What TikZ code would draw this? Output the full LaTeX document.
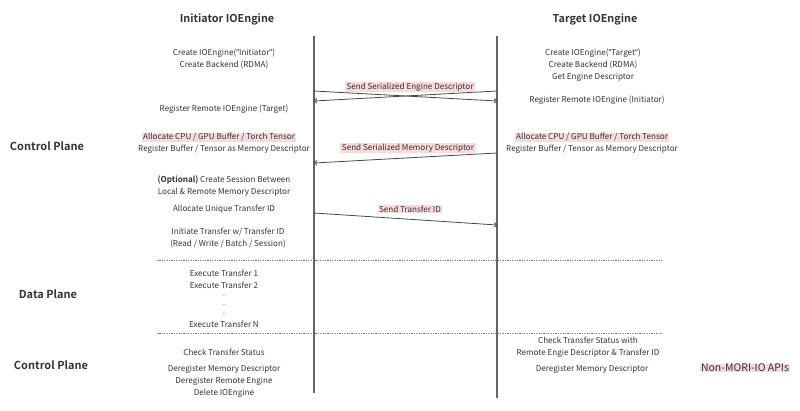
\documentclass[tikz,border=0pt]{standalone}
\usepackage{fontspec}
\setmainfont{Noto Sans CJK SC}[BoldFont={Noto Sans CJK SC Bold}]
\newfontfamily\qfont{Noto Sans}
\newcommand{\myrquote}{{\qfont\char"201D}}
\usetikzlibrary{arrows.meta}
\definecolor{txt}{RGB}{51,51,51}
\definecolor{hl}{RGB}{248,218,220}
\definecolor{life}{RGB}{100,100,100}
\tikzset{
  lbl/.style={text=txt, font=\fontsize{8.1}{12}\selectfont, inner sep=0.5pt, align=center, yshift=-1pt},
  hlbl/.style={lbl, fill=hl, inner xsep=1.5pt, inner ysep=0.5pt},
  title/.style={text=txt, font=\fontsize{10.8}{13}\selectfont\bfseries, inner sep=0pt},
  plane/.style={text=txt, font=\fontsize{11}{12}\selectfont\bfseries, inner sep=0pt},
  dotlbl/.style={text=txt!60, font=\qfont\fontsize{9}{9}\selectfont, inner sep=0pt, anchor=base},
  lifeline/.style={draw=life, line width=1.4pt},
  msg/.style={draw=txt!90, line width=0.8pt, -{To[length=3pt,width=5pt]}},
  sep/.style={draw=txt!70, line width=0.6pt, dash pattern=on 1.2pt off 1.2pt},
}
\begin{document}
\begin{tikzpicture}[x=1pt,y=-1pt]
\useasboundingbox (0,0) rectangle (800,410);
% titles
\node[title] (tI) at (227,19) {Initiator IOEngine};
\node[title] (tT) at (595,19) {Target IOEngine};
% lifelines
\coordinate (iTop) at (314,36); \coordinate (iBot) at (314,393);
\coordinate (tTop) at (497,36); \coordinate (tBot) at (497,398);
\draw[lifeline] (iTop) -- (iBot);
\draw[lifeline] (tTop) -- (tBot);
% separators
\coordinate (s1a) at (157,260); \coordinate (s1b) at (663,260);
\coordinate (s2a) at (157,333); \coordinate (s2b) at (663,333);
\draw[sep] (s1a) -- (s1b);
\draw[sep] (s2a) -- (s2b);
% plane labels
\node[plane] (cp1) at (47,146) {Control Plane};
\node[plane] (dp) at (48,294) {Data Plane};
\node[plane] (cp2) at (51,365) {Control Plane};
% initiator column
\node[lbl] (i1) at (224,58) {Create IOEngine(\myrquote Initiator\myrquote)\\Create Backend (RDMA)};
\node[lbl] (i2) at (224,108) {Register Remote IOEngine (Target)};
\node[hlbl] (i3) at (219,136) {Allocate CPU / GPU Buffer / Torch Tensor};
\node[lbl] (i4) at (224,148) {Register Buffer / Tensor as Memory Descriptor};
\node[lbl] (i5) at (224,185) {\textbf{(Optional)} Create Session Between\\Local \& Remote Memory Descriptor};
\node[lbl] (i6) at (224,208) {Allocate Unique Transfer ID};
\node[lbl] (i7) at (228,237) {Initiate Transfer w/ Transfer ID\\(Read / Write / Batch / Session)};
\node[lbl] (i8) at (224,278) {Execute Transfer 1\\Execute Transfer 2};
\node[dotlbl] (d1) at (224,296) {.};
\node[dotlbl] (d2) at (224,305) {.};
\node[dotlbl] (d3) at (224,314) {.};
\node[lbl] (i9) at (224,323) {Execute Transfer N};
\node[lbl] (i10) at (224,351) {Check Transfer Status};
\node[lbl] (i11) at (224,380) {Deregister Memory Descriptor\\Deregister Remote Engine\\Delete IOEngine};
% target column
\node[lbl] (t1) at (593,64) {Create IOEngine(\myrquote Target\myrquote)\\Create Backend (RDMA)\\Get Engine Descriptor};
\node[lbl] (t2) at (597,99) {Register Remote IOEngine (Initiator)};
\node[hlbl] (t3) at (592,136) {Allocate CPU / GPU Buffer / Torch Tensor};
\node[lbl] (t4) at (592,148) {Register Buffer / Tensor as Memory Descriptor};
\node[lbl] (t5) at (588,346) {Check Transfer Status with\\Remote Engie Descriptor \& Transfer ID};
\node[lbl] (t6) at (592,368) {Deregister Memory Descriptor};
% legend
\node[hlbl, font=\fontsize{10.5}{12}\selectfont] (leg) at (745,367) {Non-MORI-IO APIs};
% messages
\coordinate (iA) at (314,91); \coordinate (tA) at (497,101);
\coordinate (tB) at (497,91); \coordinate (iB) at (314,101);
\draw[msg] (iA) -- (tA);
\draw[msg] (tB) -- (iB);
\node[hlbl] (m1) at (410,86) {Send Serialized Engine Descriptor};
\coordinate (tC) at (497,153); \coordinate (iC) at (314,163);
\draw[msg] (tC) -- (iC);
\node[hlbl] (m2) at (408,147) {Send Serialized Memory Descriptor};
\coordinate (iD) at (314,213); \coordinate (tD) at (497,225);
\draw[msg] (iD) -- (tD);
\node[hlbl] (m3) at (410,208) {Send Transfer ID};
\end{tikzpicture}
\end{document}
